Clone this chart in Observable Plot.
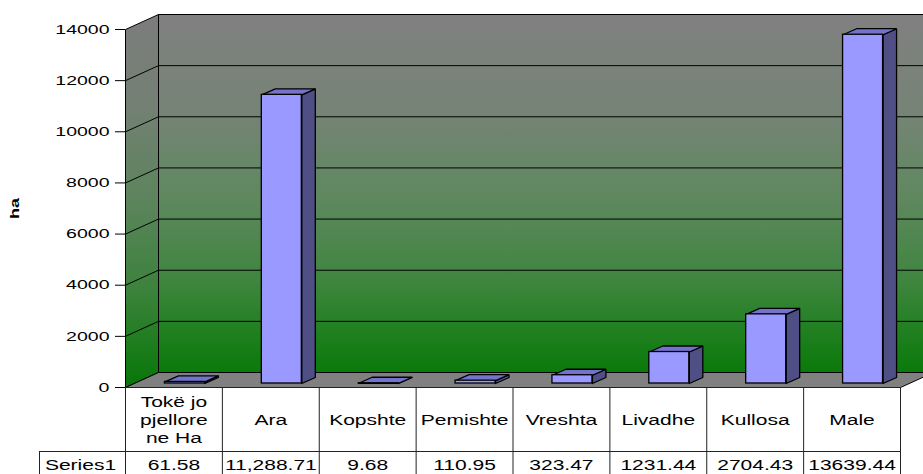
<!DOCTYPE html>
<html><head><meta charset="utf-8">
<script src="https://cdn.jsdelivr.net/npm/d3@7"></script>
<script src="https://cdn.jsdelivr.net/npm/@observablehq/plot@0.6"></script>
<style>
html,body{margin:0;padding:0;background:#fff;overflow:hidden;}
#chart svg{display:block;}
</style></head><body><div id="chart"></div>
<script>
// ---- data ----
const categories = ["Tokë jo\npjellore\nne Ha","Ara","Kopshte","Pemishte","Vreshta","Livadhe","Kullosa","Male"];
const values = [61.58,11288.71,9.68,110.95,323.47,1231.44,2704.43,13639.44];
const valueLabels = ["61.58","11,288.71","9.68","110.95","323.47","1231.44","2704.43","13639.44"];
const seriesName = "Series1";
const yTicks = [0,2000,4000,6000,8000,10000,12000,14000];
const yLabel = "ha";

// ---- layout ----
const W = 923, H = 474, mL = 125, mR = 23, mT = 29, mB = 87;
const N = categories.length;
const yMax = 14000;
const kx = N / (W - mL - mR);      // x units per pixel
const ky = yMax / (H - mT - mB);   // y units per pixel
const wallDx = 33 * kx, wallDy = 15 * ky;
const barL = -9 * kx, barR = 31 * kx, barBase = 4 * ky, barDx = 13.5 * kx, barDy = 6 * ky;
const xEnd = N + mR * kx;

const poly = (id, pts) => pts.map(([x, y]) => ({id, x, y}));
const sideWall = poly("side", [[0,0],[0,yMax],[wallDx,yMax+wallDy],[wallDx,wallDy],[0,0]]);
const backWall = poly("back", [[wallDx,wallDy],[wallDx,yMax+wallDy],[xEnd,yMax+wallDy],[xEnd,wallDy],[wallDx,wallDy]]);
const floor = poly("floor", [[0,0],[N,0],[N+wallDx,wallDy],[wallDx,wallDy],[0,0]]);
const gridVals = yTicks.filter(v => v > 0 && v < yMax);

const bars = values.map((v, i) => ({i, v, xL: i + 0.5 + barL, xR: i + 0.5 + barR, y0: barBase, y1: v + barBase}));
const sidePts = bars.flatMap(b => poly(b.i, [[b.xR,b.y0],[b.xR,b.y1],[b.xR+barDx,b.y1+barDy],[b.xR+barDx,b.y0+barDy],[b.xR,b.y0]]));
const topPts = bars.flatMap(b => poly(b.i, [[b.xL,b.y1],[b.xR,b.y1],[b.xR+barDx,b.y1+barDy],[b.xL+barDx,b.y1+barDy],[b.xL,b.y1]]));

const rowSep = -64 * ky, rowBottom = -88 * ky, seriesLeft = -86 * kx;

const plot = Plot.plot({
  width: W, height: H,
  marginLeft: mL, marginRight: mR, marginTop: mT, marginBottom: mB,
  x: {domain: [0, N], axis: null},
  y: {domain: [0, yMax], axis: null},
  style: {fontFamily: "'Liberation Sans', Arial, sans-serif", color: "black", background: "white", overflow: "hidden"},
  marks: [
    Plot.line(sideWall, {x: "x", y: "y", fill: "url(#wallGradSide)", stroke: "black", strokeWidth: 1, strokeLinejoin: "miter"}),
    Plot.line(backWall, {x: "x", y: "y", fill: "url(#wallGrad)", stroke: "black", strokeWidth: 1, strokeLinejoin: "miter"}),
    Plot.line(floor, {x: "x", y: "y", fill: "#808080", stroke: "black", strokeWidth: 1, strokeLinejoin: "miter"}),
    Plot.link(gridVals, {x1: 0, y1: d => d, x2: wallDx, y2: d => d + wallDy, stroke: "black", strokeWidth: 1}),
    Plot.ruleY(gridVals, {y: d => d + wallDy, x1: wallDx, x2: xEnd, stroke: "black", strokeWidth: 1}),
    Plot.axisY({ticks: yTicks, tickSize: 10, tickPadding: 6, tickFormat: d => String(d), fontSize: 13, label: null}),
    Plot.line(sidePts, {x: "x", y: "y", z: "id", fill: "#4f4f85", stroke: "black", strokeWidth: 1.3, strokeLinejoin: "miter"}),
    Plot.line(topPts, {x: "x", y: "y", z: "id", fill: "#7373cc", stroke: "black", strokeWidth: 1.3, strokeLinejoin: "miter"}),
    Plot.rect(bars, {x1: "xL", x2: "xR", y1: "y0", y2: "y1", fill: "#9999ff", stroke: "black", strokeWidth: 1.3}),
    // data table
    Plot.ruleY([0], {x1: 0, x2: N, stroke: "#222"}),
    Plot.ruleX(d3.range(N + 1), {x: d => d, y1: 0, y2: rowBottom, stroke: "#222"}),
    Plot.ruleY([rowSep], {x1: seriesLeft, x2: N, stroke: "#222"}),
    Plot.ruleX([seriesLeft], {y1: rowSep, y2: rowBottom, stroke: "#222"}),
    Plot.text(categories, {x: (d, i) => i + 0.5, y: -32 * ky, text: d => d, fontSize: 14, lineHeight: 1.28}),
    Plot.text(valueLabels, {x: (d, i) => i + 0.5, y: -78 * ky, text: d => d, fontSize: 14}),
    Plot.text([seriesName], {x: -45 * kx, y: -78 * ky, text: d => d, fontSize: 14}),
    Plot.text([yLabel], {x: -110 * kx, y: yMax / 2, text: d => d, rotate: -90, fontWeight: "bold", fontSize: 12})
  ]
});

// gradients for walls
const NS = "http://www.w3.org/2000/svg";
const defs = document.createElementNS(NS, "defs");
function grad(id, stops) {
  const g = document.createElementNS(NS, "linearGradient");
  g.setAttribute("id", id);
  g.setAttribute("x1", "0"); g.setAttribute("y1", "0"); g.setAttribute("x2", "0"); g.setAttribute("y2", "1");
  for (const [o, c] of stops) {
    const s = document.createElementNS(NS, "stop");
    s.setAttribute("offset", o); s.setAttribute("stop-color", c);
    g.appendChild(s);
  }
  defs.appendChild(g);
}
grad("wallGrad", [[0, "#808080"], [0.25, "#778377"], [0.5, "#608860"], [0.75, "#3e853e"], [0.9, "#1d7f1d"], [1, "#0a7a0a"]]);
grad("wallGradSide", [[0, "#7c7c7c"], [0.25, "#738073"], [0.5, "#5c845c"], [0.75, "#3a823a"], [0.9, "#1a7c1a"], [1, "#077607"]]);
plot.insertBefore(defs, plot.firstChild);

document.getElementById("chart").append(plot);

// horizontally stretched text, as in the reference
plot.querySelectorAll("text").forEach(t => {
  const spans = t.querySelectorAll("tspan");
  const els = spans.length ? [...spans] : [t];
  const f = t.getAttribute("font-weight") === "bold" ? 1.3 : 1.5;
  els.forEach(el => {
    const L = el.getComputedTextLength();
    if (L > 0) {
      el.setAttribute("textLength", (L * f).toFixed(1));
      el.setAttribute("lengthAdjust", "spacingAndGlyphs");
    }
  });
});
</script>
</body></html>
